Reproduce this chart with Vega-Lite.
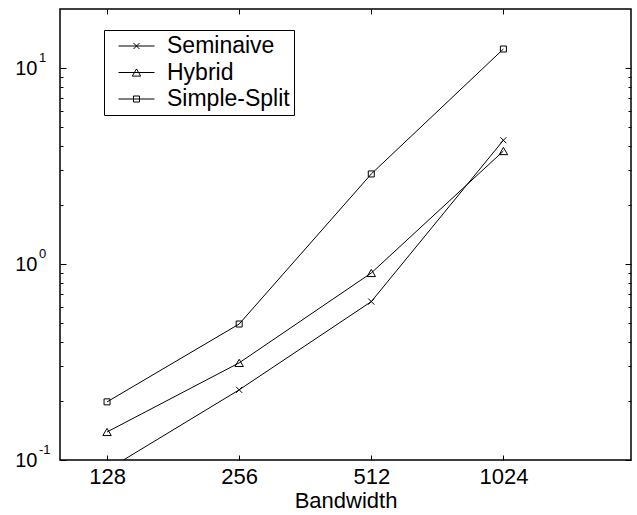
{
  "$schema": "https://vega.github.io/schema/vega-lite/v6.json",
  "width": 571,
  "height": 451,
  "autosize": {"type": "none"},
  "padding": {"left": 60, "top": 9, "right": 6, "bottom": 55},
  "background": "white",
  "config": {
    "font": "Liberation Sans",
    "view": {"stroke": "black", "strokeWidth": 1.5},
    "axis": {"domain": false, "grid": false, "tickColor": "black", "tickWidth": 1, "labelColor": "black", "titleColor": "black", "labelFont": "Liberation Sans", "titleFont": "Liberation Sans"}
  },
  "data": {
    "values": [
      {"series": "Seminaive", "bw": 128, "t": 0.089},
      {"series": "Seminaive", "bw": 256, "t": 0.228},
      {"series": "Seminaive", "bw": 512, "t": 0.643},
      {"series": "Seminaive", "bw": 1024, "t": 4.28},
      {"series": "Hybrid", "bw": 128, "t": 0.139},
      {"series": "Hybrid", "bw": 256, "t": 0.313},
      {"series": "Hybrid", "bw": 512, "t": 0.90},
      {"series": "Hybrid", "bw": 1024, "t": 3.77},
      {"series": "Simple-Split", "bw": 128, "t": 0.198},
      {"series": "Simple-Split", "bw": 256, "t": 0.494},
      {"series": "Simple-Split", "bw": 512, "t": 2.88},
      {"series": "Simple-Split", "bw": 1024, "t": 12.5}
    ]
  },
  "layer": [
    {
      "mark": {"type": "line", "color": "black", "strokeWidth": 1, "clip": true},
      "encoding": {
        "x": {"field": "bw", "type": "quantitative", "scale": {"type": "log", "base": 2, "domain": [100, 2000], "nice": false},
          "axis": {"orient": "bottom", "values": [128, 256, 512, 1024], "format": "d", "tickSize": -5, "labelPadding": 11, "labelFontSize": 22, "labelFlush": false, "labelOverlap": false, "title": "Bandwidth", "titleFontSize": 22, "titleFontWeight": "normal", "titlePadding": 3}},
        "y": {"field": "t", "type": "quantitative", "scale": {"type": "log", "domain": [0.1, 20], "nice": false},
          "axis": {"orient": "left", "values": [0.1, 0.2, 0.3, 0.4, 0.5, 0.6, 0.7, 0.8, 0.9, 1, 2, 3, 4, 5, 6, 7, 8, 9, 10],
            "tickSize": {"condition": {"test": "datum.value == 0.1 || datum.value == 1 || datum.value == 10", "value": -6}, "value": -3},
            "labelExpr": "datum.value == 0.1 || datum.value == 1 || datum.value == 10 ? '10' : ''",
            "labelPadding": 29, "labelFontSize": 20, "labelFlush": false, "labelOverlap": false, "labelBaseline": "middle", "title": null}},
        "detail": {"field": "series"}
      }
    },
    {
      "mark": {"type": "point", "filled": false, "stroke": "black", "strokeWidth": 1, "opacity": 1, "size": 576, "clip": true},
      "encoding": {
        "x": {"field": "bw", "type": "quantitative", "scale": {"type": "log", "base": 2, "domain": [100, 2000], "nice": false},
          "axis": {"orient": "top", "values": [128, 256, 512, 1024], "tickSize": -5, "labels": false, "title": null}},
        "y": {"field": "t", "type": "quantitative", "scale": {"type": "log", "domain": [0.1, 20], "nice": false},
          "axis": {"orient": "right", "values": [0.1, 0.2, 0.3, 0.4, 0.5, 0.6, 0.7, 0.8, 0.9, 1, 2, 3, 4, 5, 6, 7, 8, 9, 10],
            "tickSize": {"condition": {"test": "datum.value == 0.1 || datum.value == 1 || datum.value == 10", "value": -6}, "value": -3},
            "labels": false, "title": null}},
        "shape": {"field": "series", "type": "nominal",
          "scale": {"domain": ["Seminaive", "Hybrid", "Simple-Split"],
            "range": ["M-0.25,-0.25L0.25,0.25M-0.25,0.25L0.25,-0.25", "M0,-0.3L0.35,0.3H-0.35Z", "M-0.25,-0.25H0.25V0.25H-0.25Z"]},
          "legend": null}
      }
    },
    {
      "mark": {"type": "point", "filled": false, "stroke": "black", "strokeWidth": 1, "opacity": 0, "size": 576},
      "encoding": {
        "x": {"field": "bw", "type": "quantitative", "scale": {"type": "log", "base": 2, "domain": [100, 2000], "nice": false}, "axis": null},
        "y": {"field": "t", "type": "quantitative", "scale": {"type": "log", "domain": [0.1, 20], "nice": false}, "axis": null},
        "shape": {"field": "series", "type": "nominal",
          "scale": {"domain": ["Seminaive", "Hybrid", "Simple-Split"],
            "range": ["M-1.5,0H1.5M-0.25,-0.25L0.25,0.25M-0.25,0.25L0.25,-0.25", "M-1.5,0H1.5M0,-0.3L0.35,0.3H-0.35Z", "M-1.5,0H1.5M-0.25,-0.25H0.25V0.25H-0.25Z"]},
          "legend": {"orient": "none", "legendX": 44, "legendY": 21, "direction": "vertical", "title": null,
            "padding": 4, "strokeColor": "black", "fillColor": "white",
            "symbolSize": 576, "symbolStrokeColor": "black", "symbolFillColor": "transparent", "symbolStrokeWidth": 1, "symbolOpacity": 1,
            "clipHeight": 24, "rowPadding": 2.5, "symbolOffset": 16, "labelOffset": 18,
            "labelFontSize": 23, "labelFont": "Liberation Sans", "labelColor": "black", "labelLimit": 300,
            "labelExpr": "datum.label + '\u2002\u2002'"}}
      }
    },
    {
      "data": {"values": [{"exp": "1", "v": 10}, {"exp": "0", "v": 1}, {"exp": "-1", "v": 0.1}]},
      "mark": {"type": "text", "align": "left", "baseline": "alphabetic", "dx": -21, "dy": -6, "fontSize": 13, "color": "black", "font": "Liberation Sans"},
      "encoding": {
        "x": {"datum": 100, "type": "quantitative", "scale": {"type": "log", "base": 2, "domain": [100, 2000], "nice": false}, "axis": null},
        "y": {"field": "v", "type": "quantitative", "scale": {"type": "log", "domain": [0.1, 20], "nice": false}, "axis": null},
        "text": {"field": "exp"}
      }
    }
  ],
  "resolve": {"scale": {"shape": "independent"}, "axis": {"x": "independent", "y": "independent"}}
}
